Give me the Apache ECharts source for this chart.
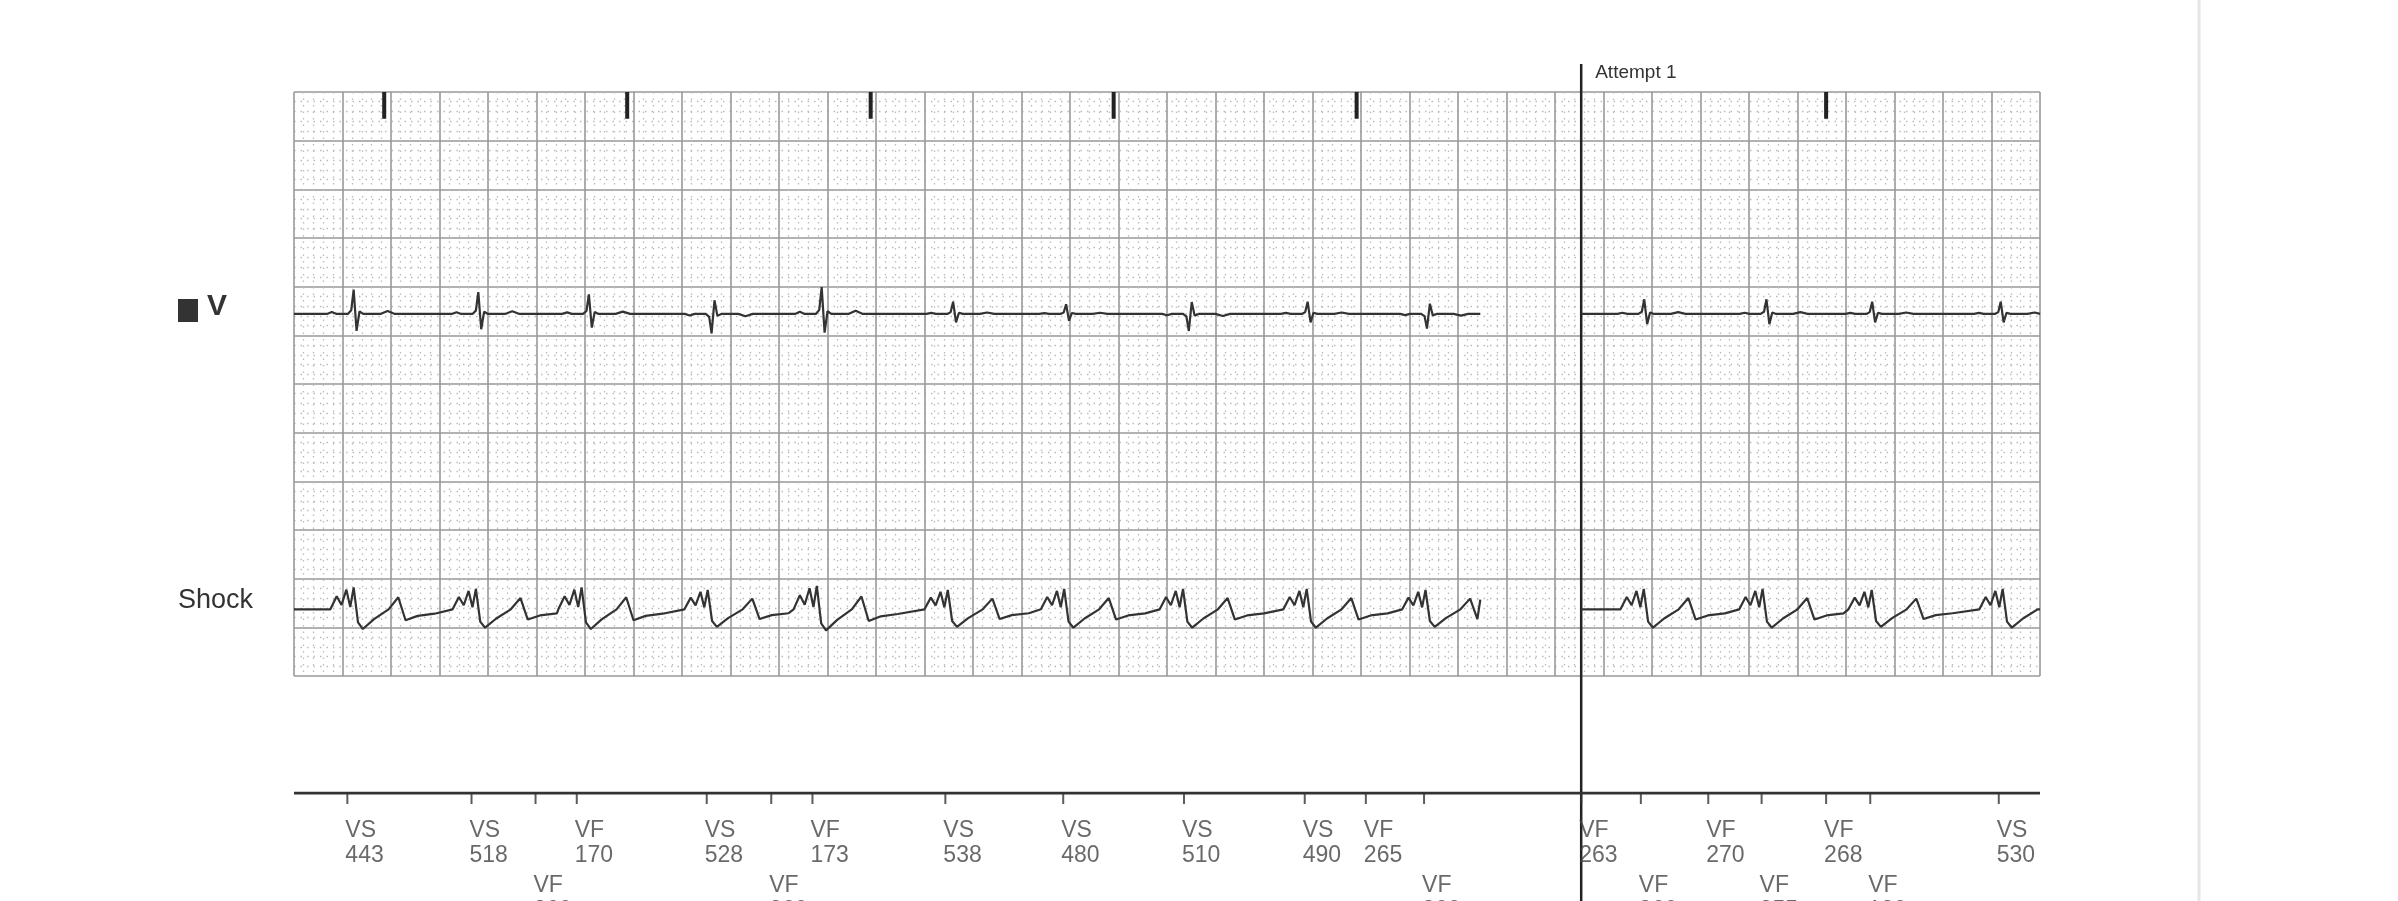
<!DOCTYPE html>
<html>
<head>
<meta charset="utf-8">
<script src="https://cdn.jsdelivr.net/npm/echarts@6/dist/echarts.min.js"></script>
<style>html,body{margin:0;padding:0;background:#fff}#chart{width:2398px;height:901px}</style>
</head>
<body>
<div id="chart"></div>
<script>
// positions in major-square units along the strip (36 squares wide)
var markerTicks = [1.86, 6.87, 11.89, 16.90, 21.91, 31.59];
var attemptAt = 26.54;
var attemptLabel = 'Attempt 1';

// V (EGM) channel: beat times, amplitude (sign = direction)
var vBeats = [1.23, 3.80, 6.08, 8.61, 10.88, 13.59, 15.92, 18.45, 20.90, 23.36, 27.84, 30.36, 32.54, 35.19];
var vAmps  = [0.50, 0.45, 0.40, -0.40, 0.55, 0.25, 0.20, -0.35, 0.25, -0.30, 0.30, 0.30, 0.25, 0.25];
// Shock channel: complex times and amplitudes
var sBeats = [1.20, 3.72, 5.90, 8.50, 10.75, 13.45, 15.85, 18.30, 20.85, 23.30, 27.80, 30.25, 32.50, 35.20];
var sAmps  = [0.45, 0.42, 0.45, 0.40, 0.48, 0.40, 0.42, 0.42, 0.42, 0.40, 0.42, 0.42, 0.40, 0.42];
var traceEnd = 24.46;
var traceRestart = 26.54;

// sensed event annotations
var eventX     = [1.10, 3.66, 4.98, 5.83, 8.51, 9.84, 10.69, 13.43, 15.86, 18.35, 20.84, 22.10, 23.30, 26.54, 27.77, 29.16, 30.26, 31.59, 32.50, 35.15];
var eventType  = ['VS','VS','VF','VF','VS','VF','VF','VS','VS','VS','VS','VF','VF','VF','VF','VF','VF','VF','VF','VS'];
var eventValue = [443, 518, 260, 170, 528, 260, 173, 538, 480, 510, 490, 265, 260, 263, 260, 270, 255, 268, 180, 530];
var eventRow   = [0, 0, 1, 0, 0, 1, 0, 0, 0, 0, 0, 0, 1, 0, 1, 0, 1, 0, 1, 0];

// waveform shapes (dx in squares, dy relative to amplitude)
var vShape = [[-0.55,0],[-0.45,0.08],[-0.35,0],[-0.12,0],[-0.05,0.15],[0,1],[0.06,-0.7],[0.12,0.1],[0.2,0],[0.55,0],[0.7,0.12],[0.85,0]];
var sShape = [[-0.45,0],[-0.32,0.6],[-0.22,0.2],[-0.12,0.9],[-0.04,0.1],[0.03,1],[0.12,-0.6],[0.22,-0.9],[0.45,-0.45],[0.75,0],[0.95,0.55],[1.1,-0.5],[1.35,-0.3],[1.7,-0.2]];
var vBase = 7.44, sBase = 1.37;

function buildTrace(beats, amps, shape, base, noise) {
  var pts = [];
  function push(x, y) { if (x >= 0 && x <= 36) pts.push([x, y]); }
  push(0, base);
  for (var i = 0; i < beats.length; i++) {
    if (i > 0 && beats[i - 1] < traceEnd && beats[i] > traceRestart) {
      push(traceEnd, base + noise);
      pts.push([ (traceEnd + traceRestart) / 2, null ]);
      push(traceRestart, base);
    }
    for (var k = 0; k < shape.length; k++) {
      var x = beats[i] + shape[k][0];
      if ((x > traceEnd && beats[i] < traceEnd) || (x < traceRestart && beats[i] > traceRestart)) continue;
      push(x, base + shape[k][1] * amps[i]);
    }
  }
  push(36, base);
  return pts;
}

var vData = buildTrace(vBeats, vAmps, vShape, vBase, 0);
var sData = buildTrace(sBeats, sAmps, sShape, sBase, 0.2);

var markerData = [];
markerTicks.forEach(function (x) { markerData.push([x, 12], [x, 11.45], [x, null]); });

var rowData = [[], []];
eventX.forEach(function (x, i) {
  rowData[eventRow[i]].push({ value: [x, eventRow[i] ? 92 : 50], name: eventType[i] + '\n' + eventValue[i] });
});
var tickData = eventX.map(function (x) { return [x, 5]; });

var chart = echarts.init(document.getElementById('chart'));
var paperX = { min: 0, max: 36, interval: 1, axisLabel: { show: false }, axisTick: { show: false },
  axisLine: { show: false },
  splitLine: { show: true, lineStyle: { color: '#999', width: 1.6 } },
  minorTick: { show: false, splitNumber: 5 },
  minorSplitLine: { show: true, lineStyle: { color: '#bbb', width: 1.3, type: [1.5, 5] } } };
var paperY = echarts.util.merge(echarts.util.clone(paperX), { min: 0, max: 12 }, true);
var labelFont = 'Arial, "Liberation Sans"';

chart.setOption({
  animation: false,
  backgroundColor: '#fff',
  grid: [
    { left: 294, top: 92, width: 1746, height: 584 },
    { left: 294, top: 793, width: 1746, height: 108 }
  ],
  xAxis: [
    echarts.util.extend({ type: 'value', gridIndex: 0 }, paperX),
    { type: 'value', gridIndex: 1, min: 0, max: 36, show: false }
  ],
  yAxis: [
    echarts.util.extend({ type: 'value', gridIndex: 0 }, paperY),
    { type: 'value', gridIndex: 1, min: 0, max: 108, inverse: true, show: false }
  ],
  series: [
    { type: 'line', xAxisIndex: 0, yAxisIndex: 0, data: vData, showSymbol: false, connectNulls: false,
      lineStyle: { color: '#333', width: 2.2 } },
    { type: 'line', xAxisIndex: 0, yAxisIndex: 0, data: sData, showSymbol: false, connectNulls: false,
      lineStyle: { color: '#333', width: 2.2 } },
    { type: 'line', xAxisIndex: 0, yAxisIndex: 0, data: markerData, showSymbol: false, connectNulls: false,
      lineStyle: { color: '#222', width: 4 } },
    // annotation baseline
    { type: 'line', xAxisIndex: 1, yAxisIndex: 1, data: [[0, 0], [36, 0]], showSymbol: false,
      lineStyle: { color: '#333', width: 3 } },
    { type: 'scatter', xAxisIndex: 1, yAxisIndex: 1, data: tickData, symbol: 'rect', symbolSize: [2, 12],
      itemStyle: { color: '#333' } },
    { type: 'scatter', xAxisIndex: 1, yAxisIndex: 1, data: rowData[0], symbolSize: 0,
      label: { show: true, position: 'right', distance: -2, formatter: '{b}', color: '#444',
        fontSize: 23, lineHeight: 25, fontFamily: labelFont } },
    { type: 'scatter', xAxisIndex: 1, yAxisIndex: 1, data: rowData[1], symbolSize: 0,
      label: { show: true, position: 'right', distance: -2, formatter: '{b}', align: 'left', verticalAlign: 'top', offset: [0, -12], color: '#444',
        fontSize: 23, lineHeight: 25, fontFamily: labelFont } }
  ]
});

// channel labels and the Attempt marker spanning strip and annotation line
var ax = chart.convertToPixel({ xAxisIndex: 0 }, attemptAt);
chart.setOption({ graphic: [
  { type: 'rect', left: 178, top: 299, shape: { width: 20, height: 23 }, style: { fill: '#333' } },
  { type: 'text', left: 207, top: 292, style: { text: 'V', font: 'bold 30px ' + labelFont, fill: '#333' } },
  { type: 'text', left: 178, top: 587, style: { text: 'Shock', font: '27px ' + labelFont, fill: '#333' } },
  { type: 'line', shape: { x1: 2199, y1: 0, x2: 2199, y2: 901 }, style: { stroke: '#e6e6e6', lineWidth: 3 } },
  { type: 'line', shape: { x1: ax, y1: 64, x2: ax, y2: 901 }, style: { stroke: '#222', lineWidth: 2.5 } },
  { type: 'text', x: ax + 14, y: 63, style: { text: attemptLabel, font: '19px ' + labelFont, fill: '#333' } }
] });
</script>
</body>
</html>
